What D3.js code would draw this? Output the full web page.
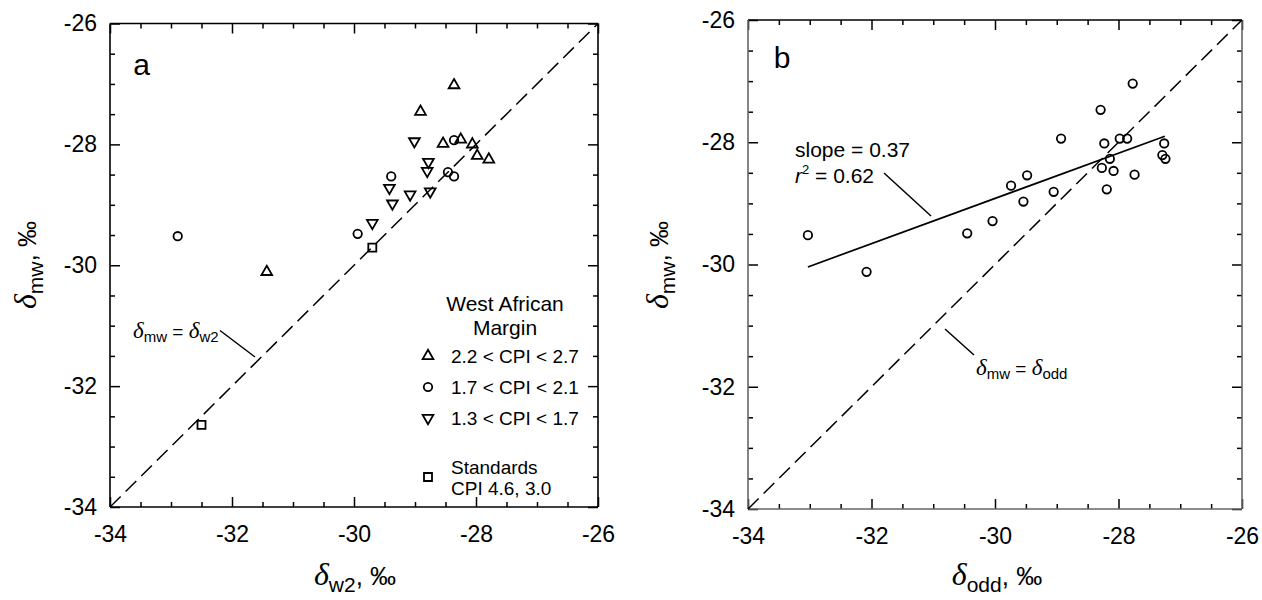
<!DOCTYPE html>
<html>
<head>
<meta charset="utf-8">
<script src="https://cdn.jsdelivr.net/npm/d3@7"></script>
<style>
  body { margin: 0; background: #fff; }
  svg { display: block; }
  text { font-family: "Liberation Sans", Arial, sans-serif; fill: #000; }
  .greek { font-family: "Liberation Serif", "DejaVu Serif", serif; font-style: italic; }
</style>
</head>
<body>
<div id="chart"></div>
<script>
// ---- data (per mil) ----
var axisTicks = [-34, -32, -30, -28, -26];

// panel a: delta mw vs delta w2
var highCpiW2 = [-28.36, -28.91, -31.43, -28.54, -28.25, -28.06, -27.98, -27.79];
var highCpiMw = [-27.02, -27.46, -30.11, -27.99, -27.92, -28.00, -28.19, -28.25];
var midCpiW2 = [-32.89, -29.94, -29.39, -28.36, -28.46, -28.36];
var midCpiMw = [-29.52, -29.48, -28.53, -27.93, -28.46, -28.53];
var lowCpiW2 = [-29.01, -28.78, -28.80, -29.42, -29.37, -29.08, -28.75, -29.70];
var lowCpiMw = [-27.95, -28.29, -28.44, -28.72, -28.98, -28.83, -28.78, -29.30];
var standardsW2 = [-29.70, -32.50];
var standardsMw = [-29.71, -32.64];

// panel b: delta mw vs delta odd
var oddDelta = [-33.03, -32.08, -30.45, -30.04, -29.74, -29.48, -29.54, -29.05, -28.93, -28.29, -28.23,
                -28.14, -28.27, -28.08, -28.19, -27.98, -27.86, -27.77, -27.74, -27.26, -27.29, -27.24];
var oddMw = [-29.52, -30.12, -29.49, -29.29, -28.71, -28.54, -28.97, -28.81, -27.94, -27.47, -28.02,
             -28.27, -28.42, -28.47, -28.77, -27.94, -27.94, -27.04, -28.53, -28.02, -28.21, -28.27];
var fitX = [-33.03, -27.25];
var fitSlope = 0.37;
var fitY0 = -30.04; // value at fitX[0]

var legendLabels = ['2.2 < CPI < 2.7', '1.7 < CPI < 2.1', '1.3 < CPI < 1.7'];

var svg = d3.select('#chart').append('svg')
    .attr('width', 1262)
    .attr('height', 600);

function zip(xs, ys) {
    return xs.map(function(x, i) { return [x, ys[i]]; });
}

var symUp = d3.symbol().type(d3.symbolTriangle).size(50);
var symCircle = d3.symbol().type(d3.symbolCircle).size(56);
var symSquare = d3.symbol().type(d3.symbolSquare).size(64);

function drawPanel(box, frameColor) {
    var x = d3.scaleLinear().domain([-34, -26]).range([box.left, box.right]);
    var y = d3.scaleLinear().domain([-34, -26]).range([box.bottom, box.top]);
    var g = svg.append('g');
    var minor = d3.range(-34, -25.9, 0.5).filter(function(v) { return axisTicks.indexOf(v) < 0; });

    function ticks(axisFn, pos, scale, values, size, labels) {
        var a = axisFn(scale).tickValues(values).tickSizeInner(-size).tickSizeOuter(0);
        if (labels) {
            a.tickPadding(axisFn === d3.axisBottom ? 19 : 13).tickFormat(function(d) { return String(d); });
        } else {
            a.tickFormat('');
        }
        var sel = g.append('g').attr('transform', pos).call(a);
        sel.select('.domain').remove();
        sel.selectAll('line').attr('stroke', '#000').attr('stroke-width', 1.5);
        sel.selectAll('text').style('font-size', '23px').style('font-family', '"Liberation Sans", Arial, sans-serif');
        return sel;
    }
    ticks(d3.axisBottom, 'translate(0,' + box.bottom + ')', x, axisTicks, 10, true);
    ticks(d3.axisBottom, 'translate(0,' + box.bottom + ')', x, minor, 5, false);
    ticks(d3.axisTop, 'translate(0,' + box.top + ')', x, axisTicks, 10, false);
    ticks(d3.axisTop, 'translate(0,' + box.top + ')', x, minor, 5, false);
    ticks(d3.axisLeft, 'translate(' + box.left + ',0)', y, axisTicks, 10, true);
    ticks(d3.axisLeft, 'translate(' + box.left + ',0)', y, minor, 5, false);
    ticks(d3.axisRight, 'translate(' + box.right + ',0)', y, axisTicks, 10, false);
    ticks(d3.axisRight, 'translate(' + box.right + ',0)', y, minor, 5, false);

    // frame
    var sides = [
        [box.left, box.top, box.right, box.top, '#000'],
        [box.left, box.bottom, box.right, box.bottom, frameColor],
        [box.left, box.top, box.left, box.bottom, frameColor],
        [box.right, box.top, box.right, box.bottom, frameColor]
    ];
    g.selectAll('line.frame').data(sides).enter().append('line')
        .attr('class', 'frame')
        .attr('x1', function(d) { return d[0]; }).attr('y1', function(d) { return d[1]; })
        .attr('x2', function(d) { return d[2]; }).attr('y2', function(d) { return d[3]; })
        .attr('stroke', function(d) { return d[4]; })
        .attr('stroke-width', 1.6);

    // 1:1 line
    g.append('line')
        .attr('x1', x(-34)).attr('y1', y(-34))
        .attr('x2', x(-26)).attr('y2', y(-26))
        .attr('stroke', '#000')
        .attr('stroke-width', 1.5)
        .attr('stroke-dasharray', '15,7');

    return { g: g, x: x, y: y };
}

function points(p, data, sym, flip) {
    p.g.selectAll(null).data(data).enter().append('path')
        .attr('d', sym)
        .attr('transform', function(d) {
            return 'translate(' + p.x(d[0]) + ',' + p.y(d[1]) + ')' + (flip ? ' rotate(180)' : '');
        })
        .attr('fill', 'none')
        .attr('stroke', '#000')
        .attr('stroke-width', 1.8);
}

// writes delta with subscript, then optional tail text
function deltaText(sel, sub, sizes, tail) {
    sel.append('tspan').attr('class', 'greek').style('font-size', sizes[0] + 'px').text('\u03b4');
    sel.append('tspan').style('font-size', sizes[1] + 'px').attr('dy', sizes[2]).text(sub);
    if (tail) {
        sel.append('tspan').style('font-size', sizes[3] + 'px').attr('dy', -sizes[2]).text(tail);
    }
}

// ---------- panel a ----------
var pa = drawPanel({ left: 110, right: 598, top: 23.5, bottom: 507 }, '#000');
points(pa, zip(highCpiW2, highCpiMw), symUp, false);
points(pa, zip(midCpiW2, midCpiMw), symCircle, false);
points(pa, zip(lowCpiW2, lowCpiMw), symUp, true);
points(pa, zip(standardsW2, standardsMw), symSquare, false);

pa.g.append('text').attr('x', 141.5).attr('y', 75).attr('text-anchor', 'middle')
    .style('font-size', '30px').text('a');

// annotation for 1:1 line
var annA = pa.g.append('text').attr('x', 133).attr('y', 338);
annA.append('tspan').attr('class', 'greek').style('font-size', '23px').text('\u03b4');
annA.append('tspan').style('font-size', '15px').attr('dy', 4).text('mw');
annA.append('tspan').style('font-size', '19px').attr('dy', -4).text(' = ');
annA.append('tspan').attr('class', 'greek').style('font-size', '23px').text('\u03b4');
annA.append('tspan').style('font-size', '15px').attr('dy', 4).text('w2');
pa.g.append('line').attr('x1', 220).attr('y1', 330.5).attr('x2', 255).attr('y2', 357)
    .attr('stroke', '#000').attr('stroke-width', 1.5);

// legend
pa.g.append('text').attr('x', 505).attr('y', 311).attr('text-anchor', 'middle')
    .style('font-size', '21px').text('West African');
pa.g.append('text').attr('x', 505).attr('y', 335).attr('text-anchor', 'middle')
    .style('font-size', '21px').text('Margin');
var legendY = [356, 387, 418];
var legendSyms = [[symUp, false], [symCircle, false], [symUp, true]];
legendLabels.forEach(function(lab, i) {
    pa.g.append('path').attr('d', legendSyms[i][0])
        .attr('transform', 'translate(428,' + legendY[i] + ')' + (legendSyms[i][1] ? ' rotate(180)' : ''))
        .attr('fill', 'none').attr('stroke', '#000').attr('stroke-width', 1.8);
    pa.g.append('text').attr('x', 451).attr('y', legendY[i] + 7)
        .style('font-size', '19px').text(lab);
});
pa.g.append('path').attr('d', symSquare).attr('transform', 'translate(428,477)')
    .attr('fill', 'none').attr('stroke', '#000').attr('stroke-width', 1.8);
pa.g.append('text').attr('x', 451).attr('y', 474).style('font-size', '19px').text('Standards');
pa.g.append('text').attr('x', 451).attr('y', 495).style('font-size', '19px').text('CPI 4.6, 3.0');

// axis titles a
var xta = svg.append('text').attr('x', 355).attr('y', 585).attr('text-anchor', 'middle');
deltaText(xta, 'w2', [32, 21, 7, 26], ', \u2030');
var yta = svg.append('text').attr('transform', 'translate(36,265) rotate(-90)').attr('text-anchor', 'middle');
deltaText(yta, 'mw', [32, 21, 7, 26], ', \u2030');

// ---------- panel b ----------
var pb = drawPanel({ left: 748, right: 1242, top: 20, bottom: 509 }, '#666');
points(pb, zip(oddDelta, oddMw), symCircle, false);

pb.g.append('line')
    .attr('x1', pb.x(fitX[0])).attr('y1', pb.y(fitY0))
    .attr('x2', pb.x(fitX[1])).attr('y2', pb.y(fitY0 + fitSlope * (fitX[1] - fitX[0])))
    .attr('stroke', '#000').attr('stroke-width', 1.7);

pb.g.append('text').attr('x', 782).attr('y', 68).attr('text-anchor', 'middle')
    .style('font-size', '30px').text('b');

pb.g.append('text').attr('x', 795).attr('y', 157).style('font-size', '21px').text('slope = 0.37');
var r2 = pb.g.append('text').attr('x', 795).attr('y', 183).style('font-size', '21px');
r2.append('tspan').style('font-style', 'italic').text('r');
r2.append('tspan').style('font-size', '13px').attr('dy', -9).text('2');
r2.append('tspan').attr('dy', 9).text(' = 0.62');
pb.g.append('line').attr('x1', 884).attr('y1', 173).attr('x2', 931).attr('y2', 216)
    .attr('stroke', '#000').attr('stroke-width', 1.5);

var annB = pb.g.append('text').attr('x', 976).attr('y', 375);
annB.append('tspan').attr('class', 'greek').style('font-size', '23px').text('\u03b4');
annB.append('tspan').style('font-size', '15px').attr('dy', 4).text('mw');
annB.append('tspan').style('font-size', '19px').attr('dy', -4).text(' = ');
annB.append('tspan').attr('class', 'greek').style('font-size', '23px').text('\u03b4');
annB.append('tspan').style('font-size', '15px').attr('dy', 4).text('odd');
pb.g.append('line').attr('x1', 945).attr('y1', 329).attr('x2', 974).attr('y2', 355)
    .attr('stroke', '#000').attr('stroke-width', 1.5);

var xtb = svg.append('text').attr('x', 997).attr('y', 585).attr('text-anchor', 'middle');
deltaText(xtb, 'odd', [32, 21, 7, 26], ', \u2030');
var ytb = svg.append('text').attr('transform', 'translate(668,265) rotate(-90)').attr('text-anchor', 'middle');
deltaText(ytb, 'mw', [32, 21, 7, 26], ', \u2030');
</script>
</body>
</html>
